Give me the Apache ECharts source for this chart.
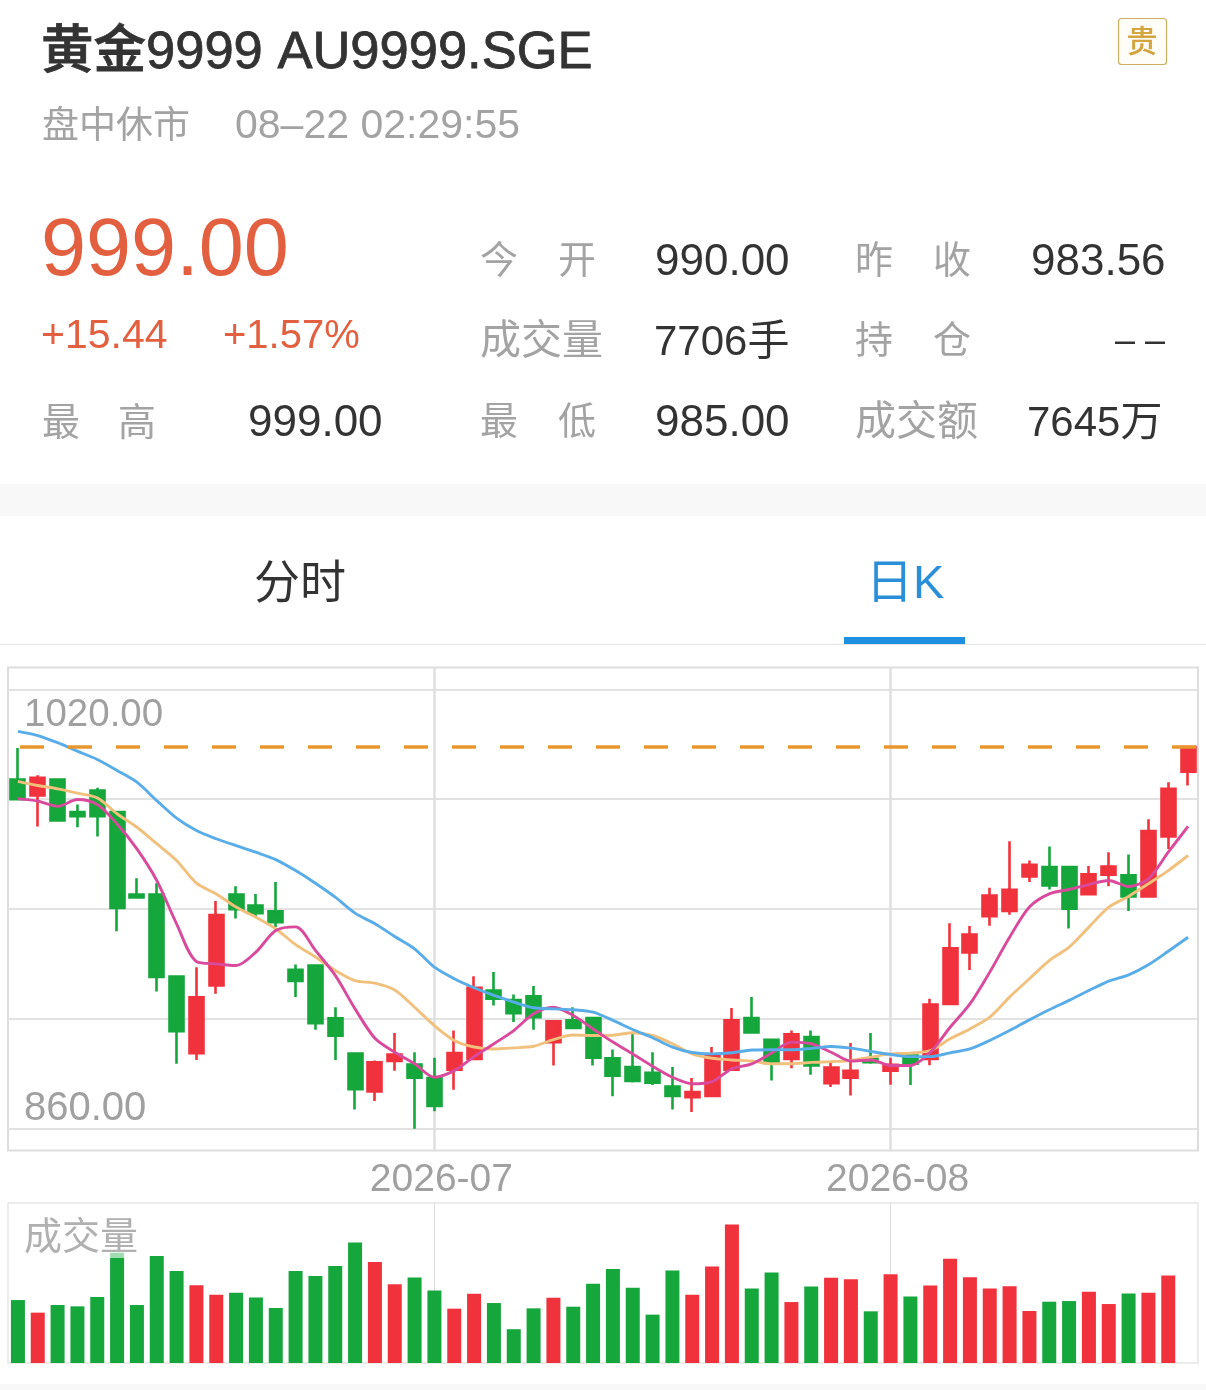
<!DOCTYPE html>
<html><head><meta charset="utf-8">
<style>html,body{margin:0;padding:0;background:#fff}#c{width:1206px;height:1390px}</style>
<script src="https://cdn.jsdelivr.net/npm/echarts@6/dist/echarts.min.js"></script>
</head><body><div id="c"></div>
<script>
const categories = ["2026-06-02","2026-06-03","2026-06-04","2026-06-05","2026-06-08","2026-06-09","2026-06-10","2026-06-11","2026-06-12","2026-06-15","2026-06-16","2026-06-17","2026-06-18","2026-06-19","2026-06-22","2026-06-23","2026-06-24","2026-06-25","2026-06-26","2026-06-29","2026-06-30","2026-07-01","2026-07-02","2026-07-03","2026-07-06","2026-07-07","2026-07-08","2026-07-09","2026-07-10","2026-07-13","2026-07-14","2026-07-15","2026-07-16","2026-07-17","2026-07-20","2026-07-21","2026-07-22","2026-07-23","2026-07-24","2026-07-27","2026-07-28","2026-07-29","2026-07-30","2026-07-31","2026-08-03","2026-08-04","2026-08-05","2026-08-06","2026-08-07","2026-08-10","2026-08-11","2026-08-12","2026-08-13","2026-08-14","2026-08-17","2026-08-18","2026-08-19","2026-08-20","2026-08-21","2026-08-24"];
const monthStarts = ["2026-07-01","2026-08-03"];
const opens = [987.2,981.4,987.2,975.3,983.2,975.3,945.3,945.3,915.4,887.5,912.1,945.3,941.3,939.2,917.8,919.4,900.2,887.3,873.5,884.6,883.3,878.4,881.4,885.4,910.3,906.8,908.2,891.5,899.4,900.3,885.6,882.4,880.3,875.3,871.4,871.9,881.4,900.3,892.3,885.4,893.3,876.5,878.5,885.4,881.1,886.6,885.4,905.4,924.2,937.4,939.3,951.9,955.3,955.3,945.4,952.5,952.3,944.6,966.4,990];
const closes = [980.0,987.8,972.3,973.8,973.8,940.4,944.2,915.2,895.5,907.8,937.8,939.9,938.5,935.2,913.8,898.4,893.8,874.3,884.1,887.0,878.5,868.2,887.5,911.3,907.3,902.0,900.6,899.1,896.7,885.8,879.3,877.3,876.7,871.9,873.3,887.0,899.4,895.0,883.9,894.3,883.0,882.2,881.0,884.2,883.2,883.6,905.2,925.7,930.7,944.9,947.0,956.1,948.6,940.1,952.6,955.5,944.6,968.4,983.8,999];
const highs = [998.7,988.7,987.2,978.1,984.2,975.3,951.2,949.4,915.4,918.8,942.9,948.3,945.5,949.8,919.8,919.4,904.2,887.6,884.8,894.8,887.8,885.8,895.7,915.5,917.0,908.8,911.9,899.1,904.2,900.3,888.8,894.5,887.8,882.4,878.4,889.7,903.9,907.9,892.3,895.7,895.7,883.9,891.2,894.8,885.8,886.6,907.3,934.8,933.8,947.7,964.7,957.7,962.8,955.3,955.7,960.7,959.9,972.7,986.2,999];
const lows = [980.0,970.1,972.3,969.8,966.4,931.9,943.8,909.9,883.6,885.0,909.1,936.5,937.3,933.4,907.9,896.0,885.0,866.9,870.0,881.1,859.9,866.3,874.1,885.4,904.8,898.8,896.0,883.0,896.7,883.0,871.8,876.8,875.9,866.9,866.0,871.9,881.4,894.8,877.5,882.0,879.6,875.1,872.0,883.6,876.0,875.9,883.1,905.4,917.8,933.9,937.9,949.8,947.1,932.9,945.4,948.3,939.3,944.6,961.9,985];
const ma5 = [980.2,979.3,977.4,979.9,978.1,971.0,961.9,950.4,934.6,920.9,920.0,919.4,924.3,932.2,933.5,924.9,915.8,903.6,892.9,887.8,883.6,878.7,881.1,886.2,890.9,895.7,901.8,904.2,901.2,896.3,891.5,887.2,882.7,878.7,876.3,877.1,881.8,883.6,887.5,891.5,890.9,887.8,884.6,885.0,883.0,883.0,887.8,896.9,905.4,917.0,929.7,940.7,945.5,947.1,948.9,950.4,948.2,951.0,960.7,970.1];
const ma10 = [986.5,985.0,983.8,982.2,980.5,974.7,969.8,963.8,957.7,949.4,945.5,940.7,937.0,932.8,927.0,922.5,917.6,913.9,913.0,910.5,904.2,897.5,892.1,889.7,889.0,889.4,890.0,892.4,894.1,893.9,894.0,894.9,893.9,890.9,887.2,885.6,885.0,884.6,883.6,883.6,884.1,884.4,884.8,886.0,887.2,887.5,888.4,892.7,896.3,900.6,907.9,914.6,921.2,926.1,933.4,940.7,944.6,949.2,954.0,959.5];
const ma20 = [1004.7,1003.2,1000.6,997.5,994.5,990.5,986.2,979.5,973.1,968.6,965.6,963.1,960.7,958.0,954.0,949.4,944.3,938.5,934.6,930.0,925.5,918.8,914.6,911.3,908.5,906.1,904.0,903.6,903.3,902.4,899.4,896.1,893.1,889.7,887.7,887.2,887.6,888.6,888.7,888.7,889.2,889.9,889.3,888.1,887.0,886.2,886.2,887.6,889.0,892.1,895.7,899.6,903.3,906.7,910.3,913.7,916.0,919.7,924.6,929.7];
const volumes = [190,152,175,171,199,333,175,323,278,235,206,212,198,166,278,263,293,364,305,238,258,219,164,209,181,102,165,197,170,239,284,227,146,279,206,291,418,225,273,184,231,257,253,156,268,201,234,315,259,225,232,157,185,187,215,178,210,212,264,null];
const priceTicks = [860,900,940,980,1020];
const priceLabels = [860,1020];
const lastPrice = 999;

const FONT = '"Liberation Sans","Noto Sans CJK SC",sans-serif';
const UP = '#f0323c', DOWN = '#15a63c', GRID = '#e2e2e2', GREY = '#a3a3a3', DARK = '#333333', RISE = '#e2603f';

// text, x, y, size, colour, weight, stroke width
const texts = [
  ['黄金9999 AU9999.SGE',41,54,52.5,DARK,500,0.8],
  ['盘中休市',42,128,37,GREY,400],
  ['08–22 02:29:55',235,127,41,GREY,400],
  ['999.00',41,253,81,RISE,400],
  ['+15.44',41,337,41,RISE,400],
  ['+1.57%',223,337,40,RISE,400],
  ['最',42,425,38,GREY,400],['高',118,425,38,GREY,400],
  ['999.00',248,424,44,DARK,400],
  ['今',480,263,38,GREY,400],['开',558,263,38,GREY,400],
  ['990.00',655,263,44,DARK,400],
  ['昨',855,263,38,GREY,400],['收',933,263,38,GREY,400],
  ['983.56',1031,263,44,DARK,400],
  ['成交量',480,343,41,GREY,400],
  ['7706手',654,343,42,DARK,400],
  ['持',855,343,38,GREY,400],['仓',933,343,38,GREY,400],
  ['– –',1115,342,36,DARK,400],
  ['最',480,424,38,GREY,400],['低',558,424,38,GREY,400],
  ['985.00',655,424,44,DARK,400],
  ['成交额',855,424,41,GREY,400],
  ['7645万',1027,424,42,DARK,400],
  ['分时',254,585,46,DARK,400],
  ['日K',866,585,47,'#2b8fd8',400]
];
const graphic = [
  {type:'rect',z:-1,shape:{x:0,y:484,width:1206,height:32},style:{fill:'#f8f8f8'},silent:true},
  {type:'rect',z:-1,shape:{x:0,y:644,width:1206,height:1},style:{fill:'#e5e5e5'},silent:true},
  {type:'rect',z:-1,shape:{x:844,y:637,width:121,height:7},style:{fill:'#1f8fe0'},silent:true},
  {type:'rect',z:-1,shape:{x:0,y:1384,width:1206,height:6},style:{fill:'#f8f8f8'},silent:true},
  {type:'rect',z:10,shape:{x:1118.5,y:18.5,width:48,height:46,r:3},style:{fill:'#fffdf8',stroke:'#cfae62',lineWidth:1.2},silent:true},
  {type:'text',z:11,style:{text:'贵',x:1142,y:43,fill:'#d2a53f',fontSize:31,fontWeight:500,fontFamily:FONT,align:'center',verticalAlign:'middle'},silent:true},
  {type:'text',z:12,style:{text:'成交量',x:24,y:1239,fill:'#b0b0b0',fontSize:38,fontFamily:FONT,verticalAlign:'middle',backgroundColor:'rgba(255,255,255,0.6)',padding:[0,0,0,0]},silent:true}
].concat(texts.map(t=>({type:'text',silent:true,style:{text:t[0],x:t[1],y:t[2],fontSize:t[3],fill:t[4],fontWeight:t[5],fontFamily:FONT,verticalAlign:'middle',stroke:t[6]?t[4]:null,lineWidth:t[6]||0}})));

const maLine = (name,data,color)=>({name,type:'line',xAxisIndex:0,yAxisIndex:0,data,symbol:'none',smooth:0.3,silent:true,z:4,lineStyle:{color,width:2.9}});
const isStart = (i,v)=>monthStarts.includes(v);

const option = {
  animation:false,
  backgroundColor:'#ffffff',
  textStyle:{fontFamily:FONT},
  graphic:{elements:graphic},
  grid:[
    {left:8,top:667.5,width:1190,height:483,show:true,borderColor:'#dddddd',borderWidth:2,backgroundColor:'#fff'},
    {left:8,top:1203,width:1190,height:160,show:true,borderColor:'#e6e6e6',borderWidth:1.5,backgroundColor:'#fff'}
  ],
  xAxis:[
    {type:'category',gridIndex:0,data:categories,boundaryGap:true,
     axisLine:{show:false},axisTick:{show:false},
     axisLabel:{show:true,interval:isStart,margin:10,color:'#a0a0a0',fontSize:39,fontFamily:FONT,
       formatter:v=>'{a|'+v.slice(0,7)+'}',rich:{a:{fontSize:39,color:'#a0a0a0',fontFamily:FONT,padding:[0,0,0,14]}}},
     splitLine:{show:true,interval:isStart,alignWithLabel:true,lineStyle:{color:'#dfdfdf',width:2.5}}},
    {type:'category',gridIndex:1,data:categories,boundaryGap:true,
     axisLine:{show:false},axisTick:{show:false},axisLabel:{show:false},
     splitLine:{show:true,interval:isStart,alignWithLabel:true,lineStyle:{color:'#dddddd',width:1}}}
  ],
  yAxis:[
    {type:'value',gridIndex:0,min:852,max:1028,position:'left',
     axisLine:{show:false},
     axisTick:{show:false,customValues:priceTicks},
     axisLabel:{show:true,inside:true,margin:16,customValues:priceLabels,z:20,
       formatter:v=>(v===1020?'{t|':'{b|')+v.toFixed(2)+'}',
       rich:{t:{fontSize:38.5,color:'#a0a0a0',fontFamily:FONT,padding:[52,0,0,0]},
             b:{fontSize:40,color:'#a0a0a0',fontFamily:FONT,padding:[0,0,40,0]}}},
     splitLine:{show:true,lineStyle:{color:GRID,width:2}}},
    {type:'value',gridIndex:1,min:0,max:483,
     axisLine:{show:false},axisTick:{show:false},axisLabel:{show:false},splitLine:{show:false}}
  ],
  series:[
    {name:'K',type:'candlestick',xAxisIndex:0,yAxisIndex:0,barWidth:14.5,silent:true,z:3,
     data:categories.map((c,i)=>[opens[i],closes[i],lows[i],highs[i]]),
     itemStyle:{color:UP,color0:DOWN,borderColor:UP,borderColor0:DOWN,borderWidth:2.6},
     markLine:{silent:true,symbol:'none',label:{show:false},z:6,
       lineStyle:{color:'#e8962e',width:3.5,type:[24,24],dashOffset:36},data:[{yAxis:lastPrice}]}},
    maLine('MA10',ma10,'#f0c07c'),
    maLine('MA5',ma5,'#d94a9c'),
    maLine('MA20',ma20,'#58ace8'),
    {name:'成交量',type:'bar',xAxisIndex:1,yAxisIndex:1,barWidth:14,silent:true,z:3,
     data:volumes.map((v,i)=>({value:v,itemStyle:{color:closes[i]>=opens[i]?UP:DOWN}}))}
  ]
};
echarts.init(document.getElementById('c'),null,{renderer:'canvas'}).setOption(option);
</script></body></html>
